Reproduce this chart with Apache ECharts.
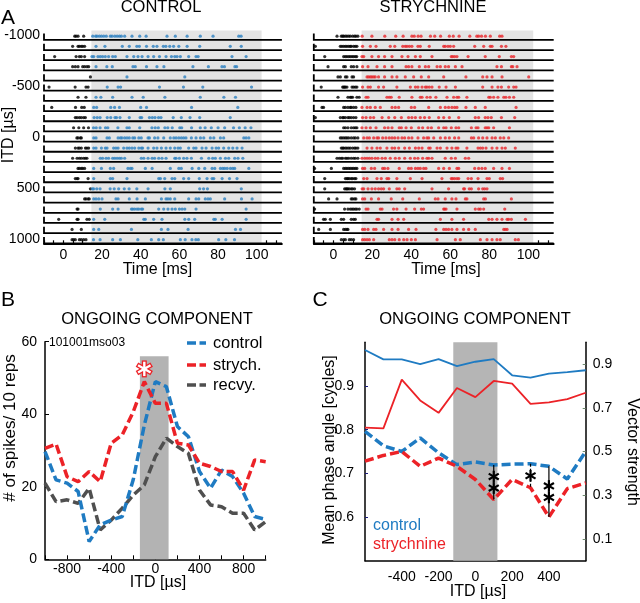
<!DOCTYPE html>
<html><head><meta charset="utf-8">
<script src="https://cdn.jsdelivr.net/npm/echarts@6/dist/echarts.min.js"></script>
<style>html,body{margin:0;padding:0;background:#fff}#c{width:640px;height:603px}</style>
</head><body><div id="c"></div>
<script>
const FONT = '"Liberation Sans", Arial, Helvetica, sans-serif';

// ---------- Panel A: raster data (spike times in ms, one list per ITD row) ----------
const itdRows = [-1000,-900,-800,-700,-600,-500,-400,-300,-200,-100,0,100,200,300,400,500,600,700,800,900,1000];
const winStart = 14.5, winEnd = 102.5;   // ongoing-component window (ms)

const ctrlSpikes = [
 [5.9,6.6,7.6,10.5,15.2,16.7,17.4,18.6,19.7,20.9,22.2,24.3,25.2,26.6,27.8,29,30,31.7,35.5,39.5,42.8,53.6,57.9,64,70.8,77.4,90.7,91.9],
 [4.8,7.6,8.3,9.3,10,11,16.9,21.5,30.5,34.1,38,39.3,43,46.5,48.4,51.7,53,55,57,59.7,64,70.5,86.3,92],
 [-4.5,6.6,8.3,9.3,11,14.8,15.7,17.9,19.1,20.3,21.7,23.4,25.5,26.9,32.9,36.4,38.6,40.7,43.8,46.7,49.7,53.1,55.9,57.6,58.8,60.5,64.8,68.6,69.7,87.2,94.5],
 [4.8,6.2,7.6,10,11,12.2,13.1,16.9,22.5,25.3,36,37.2,43,48.4,52,67,75,82,83.3,88.7,89.6],
 [14,32.9,62.8],
 [-7.4,6.1,11.7,12.8,22.7,28.3,29.6,49.7,62.1,72.1,97.3],
 [7.6,11.7,16.9,19.4,25.5,35.5,41.3,52.5,70.8,83,89],
 [-6,6.3,9.5,10.8,15.7,17.2,24.5,26.5,29,40,43,66.3,90.2],
 [6.2,7.1,8.3,9.3,10.5,11.4,15.9,17.5,19,22.7,24.5,26.7,27.5,29.3,34.1,39.7,40.5,44.5,46,47.4,49.2,50.5,56.8,61,65.5,70.5,86.3],
 [5.3,8,10.5,13,15.6,17,19,21.8,23,28.2,32.9,34.1,39.5,45.8,47.5,49.1,52.5,54,56.3,60.2,61.2,66.3,70.8,73.3,76.5,80,83.4,88,91,94,97],
 [7,7.6,8.8,9.3,15.7,16.9,22.6,23.8,28.3,29.5,30.3,31.7,32.9,34.1,35.9,36.9,39,40.3,43.8,44.5,47.2,48.9,51.9,55.3,57.1,58.3,59.7,61,62.2,63.4,66.2,68.6,70.9,72.6,76,77.8,81.2,82.9,93.3,94.5,95.9],
 [6.2,7.6,8.3,9.3,11.4,12.2,13.1,15.7,16.9,19.7,21.7,22.6,26,27.2,28.3,31.2,32.9,34.1,35.5,36.9,39,40.3,41,43.8,46.7,48.4,50.7,53.1,55.3,57.6,59.3,60.5,64.8,67.4,68.6,71.7,73.8,76.9,79,80.3,82.9,85.5,87.6,89.8,92.4],
 [4.8,7.1,8.3,9.3,10.5,11.4,12.2,19.1,20.3,22.1,23.4,25.5,26.6,27.8,29,30,31.7,40.3,41.6,43.8,45.9,47.2,49.3,51,53.1,57.6,58.3,60,62.2,63.9,66.2,71.4,75.2,77.2,78.6,81.2,83.8,85.5,88.6,90.3,92.8],
 [7.6,8.3,9.3,10,11,15.7,19.7,24.3,26,33.4,34.7,35.5,42.4,45.9,55.3,59.7,61,66.6,70,73.1,76.9,78.3,81.2,82.4,83.4,84.7,86.4,87.6,88.6,95.9],
 [6.2,7.1,7.6,12.8,15.7,24.3,25.5,32.9,49.3,50.2,52.4,56.2,57.6,62.2,64.8,70.3,74.3,76.9,77.8,82.1,85.9,89.8],
 [14,15,15.7,17.3,19,24.2,26.3,28.6,31.5,34,38,43.8,52.5,55.3,70.5,72.5,74.5,92],
 [11,11.7,12.8,13.4,15.7,16.9,18.3,20,27.2,28.3,34.1,38.1,42.4,50.7,53.1,54.1,55.3,57.6,64.8,68.6,70,73.4,74.8,76,83.4,92.1,97.6],
 [7.1,7.6,19.1,25.5,28.3,35.2,35.9,36.9,38.1,39,40.3,41,49.3,51.9,54.1,56.2,57.9,60,61.4,62.8,68.6,94.5],
 [-2.4,7.1,7.6,12.2,13.4,15.7,21.4,41.6,42.4,46.7,51,62.8,64.8,67.9,77.8,78.6,82.1,94.5],
 [4.5,9.3,15.7,18.3,35.2,50.7,54.1,64.5,89,91.6],
 [4.5,5.3,6.2,8.3,9.3,10.5,11.7,15.6,19,25.5,29.5,38.5,45.5,49.3,51.7,60.5,63,66.5,68.5,69.8,80.3,84,88.5]
];

const strychSpikes = [
 [1.9,4.1,4.8,5.3,6.2,7,7.9,8.7,9.9,10.9,11.6,12.6,14.8,19.8,26.4,32,35.8,40.3,41.5,43.5,45,49.8,52,55,59.5,61.5,64.5,70,73.6,74.5,76,78,80.5,85.3,86.5],
 [-9.2,3.6,4.4,5.3,6.2,7,7.9,8.7,9.2,10.4,11.3,12.1,15,19,21.9,29.2,31.5,35.6,36.9,37.8,39,40.3,43.4,44.6,49.2,56.6,57.4,58.8,60,61.7,72.5,77.1,80.5,81.4,86.2,88.5],
 [-4.4,5.3,6.2,7,7.9,8.7,9.6,10.4,11.3,12,14.7,15.6,19.8,23.2,26.3,30.1,35.2,38.3,42.1,44.6,50.6,60.5,61.2,62.2,63.4,69.1,77.9,85.1,91.3,92.5],
 [-2.7,5.3,6.2,9.2,10.4,12.1,15,17.8,22.4,26.3,30.1,37.3,38.6,40.3,44.1,47.2,48.9,53.2,54.9,57.4,59.1,62.6,66,83.9,86.2,91.3,92,94.2],
 [2.4,3.6,6.2,7,9.6,10.4,17.3,18.1,19,19.8,20.7,21.5,23.2,26.3,30.1,32.6,36.9,41.2,45.1,48.9,56.6,68,76.6,78.8,81.4,86.5,100.2],
 [-6.2,4.8,5.3,5.8,6.2,7,9.6,10.4,11.3,12.1,15,17.8,19,23.2,25.8,32.6,39.5,42.1,43.4,45.5,47.2,48,49.2,50.6,54.3,57.8,62.6,76.6,81.4,84.4,86.2,89.9,92.5,93.7],
 [2.4,7.5,8.7,9.2,9.9,12.1,13.3,16.8,17.8,27.5,28.7,29.7,33.8,40.3,44.6,45.5,48,49.7,52.6,58.3,61.7,63.4,64.3,68.5,79.7,80.5,82.2,84.4,87.4,88.5,90.3,92.5],
 [-5.8,-5,5.3,6.2,7.5,8.7,9.2,10.4,11.6,14.7,17.3,19,21.5,24.1,30.1,31.8,33.5,40,41.7,48.9,54.9,57.4,59.1,60.8,62.2,63.4,68,72.8,77.9,93.7],
 [-9.2,3.6,4.8,5.3,6.2,7.5,8.2,9.2,10.4,11.6,15,16.8,19,20.7,25,28.4,31.5,34.9,38.6,40.3,42.1,44.6,46.8,49.2,54,56.6,59.5,64.3,72.8,74.5,77.9,79.3,81,86.2,93],
 [5.3,6.2,7.5,9.2,10.4,11.3,12.1,14.7,16.8,19,21.9,26.3,28.1,30.1,33.8,34.9,37.3,40,43.8,45.8,48.5,50.3,54,56.6,57.8,60.5,62.9,64.3,70.8,73.2,74.2,77.9,78.8,79.7,82.2,90.3],
 [3.6,4.4,5.3,6.2,7,7.9,9.2,10.4,11.3,12.6,15.6,17.3,18.5,20.7,22.4,23.2,25.3,27,28.7,30.1,31.5,33.2,35.2,36.6,38.6,40.3,43.4,46.3,48,48.9,51.5,54.9,57.4,59.5,62.2,64.3,70.8,72,74.5,76.6,78.8,81.4,83.1,85.6,87.4,89.9],
 [4.1,4.8,5.3,6.2,7,7.9,8.7,9.9,10.9,11.6,12.6,17.3,19.8,22.4,24.1,27.5,30.1,31.5,33.5,36.6,39,42.1,43.8,45.5,48.9,49.7,53.2,54.9,58.3,60.8,62.9,63.9,68.5,74.2,75.4,76.6,78.3,81.4,83.9,86.5,88.2,93.3],
 [1.9,3.1,4.1,4.8,6.2,7,7.9,9.2,10.4,11.3,12.6,14.7,16.1,17.3,18.5,19.8,21.5,22.9,25,26.7,29.2,31.8,33.8,36.6,39.5,41.7,43.4,45.8,48,48.9,50.6,57.4,60.5,62.6,67.7,69.4],
 [-9.6,-1,5.3,6.2,7,7.9,8.7,9.6,10.4,11.3,12.1,15,16.1,19.5,21.2,25.3,26.3,28,33.8,38.6,40,42.1,43.4,44.6,46.3,47.5,54,56.6,59.5,63.4,64.3,72.5,74.5,76.2,77.9,82.2,86.5,90.3],
 [-4.4,6.2,7,7.5,8.2,9.2,9.9,10.9,11.6,15.6,17.3,22.4,24.6,27.5,28.4,32.6,39.5,45.5,55.7,60.5,61.2,62.2,63.4,64.3,69.1,70.8,74.2,78.8,80,85.6,86.8],
 [-4.4,5.8,6.5,7,7.5,8.2,9.2,9.9,10.9,14.8,15.6,17.8,19.8,21.5,23.2,24.6,25.8,28.7,32.6,33.8,36.6,50.6,59.1,66.8,67.3,69.7,70.8,74.5,76.6,77.6,78.8],
 [-2.4,1.9,9.2,9.9,10.9,11.6,15,16.1,19.5,23.2,29.7,35.6,44.1,52.3,53.7,57.4,60.8,62.9,67.7,68.5,77.1,78,91.3],
 [-9.6,5.8,7.5,8.7,9.6,10.4,11.3,12.1,13.3,16.8,17.8,24.1,25,30.9,32.6,37.3,41.7,45.1,46.3,56.6,57.1,57.8,63.4,72.8,74.5,75.4,77.1,87.9],
 [-5,-4.1,-1.5,4.1,5.3,9.2,10.4,11.3,22.4,23.2,30.1,33.2,36.1,54.9,60.8,66.8,79.7,81.4,83.9,86.5,89.1,89.9,91.3,98.5],
 [-7.5,-1.5,5.3,6.2,7,7.5,15,16.1,17.8,20.7,21.9,25.8,30.1,33.2,38.6,42.4,52.6,56.6,57.8,59.1,60.8,63.4,66.8,69.4,72.8,87.4,88.2,89.1],
 [4.1,5.3,6.2,8.2,9.2,10.4,15,16.1,17.3,18.5,20.7,28.7,30.1,31.5,33.8,36.1,37.8,40,42.1,53.2,62.6,65.1,75.4,78.8,81.4,83.9,85.6,93.3,94.9]
];
const rasterYLabels = [-1000,-500,0,500,1000];

// ---------- Panel B: spike counts per 10 reps ----------
const itdB    = [-1000,-900,-800,-700,-600,-500,-400,-300,-200,-100,0,100,200,300,400,500,600,700,800,900,1000];
const ctrlB   = [29.7,21.9,21,18.7,4.9,9.5,10.8,11.8,22,37,49,47.6,36.6,33.8,24.2,19.6,24.6,22.8,18.2,11.8,11];
const strychB = [30.6,31.8,22.8,21.4,24.2,21.4,32,34.3,40.7,49,43,43,32,31.5,26.5,25.6,24.2,24.2,19.1,27.4,26.9];
const recvyB  = [21,15.9,16.4,15.4,19.6,8.1,10.8,14.1,17.7,20.5,28.3,33.4,31.1,29.2,19.1,15,14.5,12.7,12.7,8.1,10.4];
const bandB   = [-140,120];
const sigB    = [[-100, 52.5]];

// ---------- Panel C: mean phase (dashed, left) and vector strength (solid, right) ----------
const itdC        = [-600,-500,-400,-300,-200,-100,0,100,200,300,400,500,600];
const ctrlPhase   = [0.796,0.763,0.750,0.781,0.747,0.720,0.726,0.719,0.721,0.722,0.716,0.687,0.750];
const strychPhase = [0.728,0.741,0.750,0.716,0.735,0.716,0.686,0.640,0.686,0.667,0.600,0.665,0.678];
const ctrlVS      = [0.965,0.922,0.922,0.900,0.923,0.891,0.911,0.923,0.849,0.838,0.857,0.863,0.872];
const strychVS    = [0.609,0.606,0.829,0.734,0.677,0.791,0.749,0.823,0.811,0.718,0.725,0.740,0.769];
const bandC       = [-120,120];
const sigX        = [100,300,400];
const sigN        = [2,1,2];
const sigDashed   = [false,true,false];

// ---------- colours ----------
const BLUE = '#1f7bc2', RED = '#ec2227', DGRAY = '#4f4f4f';
const DOT_BLUE = '#2a7fc0', DOT_RED = '#e8262a';

// layout helpers for raster
const T_MIN = -10, T_MAX = 113, Y_MIN = -1050, Y_MAX = 1042, BASE_OFF = 42, DOT_LIFT = 36, L_UNITS = 62;

function rasterSeries(gi, spikes, color) {
  const pre = [], post = [];
  spikes.forEach((ts, i) => ts.forEach(t => {
    const y = itdRows[i] + BASE_OFF - DOT_LIFT;
    (t < winStart ? pre : post).push([t, y]);
  }));
  return [
    { type:'custom', xAxisIndex:gi, yAxisIndex:gi, z:1, silent:true, data:[[winStart, winEnd]],
      renderItem:(p, api) => {
        const a = api.coord([api.value(0), Y_MIN]), b = api.coord([api.value(1), Y_MAX]);
        return { type:'rect', shape:{x:a[0], y:a[1], width:b[0]-a[0], height:b[1]-a[1]}, style:{fill:'#e4e4e4'} };
      } },
    { type:'custom', xAxisIndex:gi, yAxisIndex:gi, z:2, silent:true, data:itdRows.map(v => [T_MIN, v]),
      renderItem:(p, api) => {
        const yb = api.value(1) + BASE_OFF;
        const p0 = api.coord([T_MIN, yb]), p1 = api.coord([T_MAX, yb]), pt = api.coord([T_MIN, yb - L_UNITS]);
        return { type:'polyline', shape:{points:[pt, p0, p1]}, style:{stroke:'#000', lineWidth:1.8, fill:null} };
      } },
    { type:'scatter', xAxisIndex:gi, yAxisIndex:gi, z:3, silent:true, symbolSize:3.2, itemStyle:{color:'#000'}, data:pre },
    { type:'scatter', xAxisIndex:gi, yAxisIndex:gi, z:3, silent:true, symbolSize:3.2, itemStyle:{color:color}, data:post }
  ];
}

function starLines(cx, cy, r, color, w) {
  return [90, 30, -30].map(a => {
    const rad = a * Math.PI / 180, dx = r * Math.cos(rad), dy = r * Math.sin(rad);
    return { type:'line', shape:{x1:cx-dx, y1:cy-dy, x2:cx+dx, y2:cy+dy}, style:{stroke:color, lineWidth:w} };
  });
}

const rasterX = gi => ({
  gridIndex:gi, type:'value', min:T_MIN, max:T_MAX, interval:5,
  axisLine:{onZero:false, lineStyle:{color:'#000', width:1.8}},
  axisTick:{inside:true, length:3, lineStyle:{color:'#000', width:1.2}},
  axisLabel:{color:'#000', fontSize:14, fontFamily:FONT, margin:5, showMaxLabel:false,
    formatter:v => (v >= 0 && v <= 100 && Math.round(v) % 20 === 0) ? String(Math.round(v)) : ''},
  splitLine:{show:false}
});
const rasterY = (gi, show) => ({
  gridIndex:gi, type:'value', inverse:true, min:Y_MIN, max:Y_MAX,
  axisLine:{show:false, onZero:false}, axisTick:{show:false}, splitLine:{show:false},
  axisLabel:{show:show, color:'#000', fontSize:14, fontFamily:FONT, margin:4, customValues:rasterYLabels,
    formatter:v => String(Math.round(v))}
});

function txt(text, x, y, size, opt) {
  opt = opt || {};
  return { type:'text', x:x, y:y, rotation:opt.rot || 0, silent:true, z:50,
    style:{ text:text, font:(opt.bold ? 'bold ' : '') + size + 'px ' + FONT, fill:opt.color || '#000',
      textAlign:opt.align || 'center', textVerticalAlign:'middle' } };
}
function dashLeg(x1, x2, y, color) {
  return { type:'line', silent:true, z:50, shape:{x1:x1, y1:y, x2:x2, y2:y}, style:{stroke:color, lineWidth:3.5, lineDash:[9,3.5]} };
}

const chart = echarts.init(document.getElementById('c'), null, {renderer:'canvas'});
const option = {
  animation:false,
  backgroundColor:'#fff',
  grid:[
    {left:44, top:30.5, width:237.9, height:212.8},
    {left:313.8, top:30.5, width:239.9, height:212.8},
    {left:45, top:341.7, width:220.7, height:217.6},
    {left:365, top:342.3, width:220.7, height:218.4}
  ],
  xAxis:[
    rasterX(0), rasterX(1),
    { gridIndex:2, type:'value', min:-1000, max:1000, interval:200,
      axisLine:{onZero:false, lineStyle:{color:'#000', width:1.5}},
      axisTick:{inside:true, length:4, lineStyle:{color:'#000'}},
      axisLabel:{color:'#000', fontSize:14, fontFamily:FONT, margin:3,
        formatter:v => (Math.abs(v) < 1000 && Math.round(v) % 400 === 0) ? String(Math.round(v)) : ''},
      splitLine:{show:false} },
    { gridIndex:3, type:'value', min:-600, max:600, interval:200,
      axisLine:{onZero:false, lineStyle:{color:'#000', width:1.5}},
      axisTick:{show:false},
      axisLabel:{color:'#000', fontSize:14, fontFamily:FONT, margin:9,
        formatter:v => (Math.abs(v) < 600) ? String(Math.round(v)) : ''},
      splitLine:{show:false} }
  ],
  yAxis:[
    rasterY(0, true), rasterY(1, false),
    { gridIndex:2, type:'value', min:0, max:60, interval:20,
      axisLine:{show:true, onZero:false, lineStyle:{color:'#000', width:1.5}},
      axisTick:{show:true, inside:true, length:4, lineStyle:{color:'#000'}},
      axisLabel:{color:'#000', fontSize:14, fontFamily:FONT, margin:8},
      splitLine:{show:false} },
    { gridIndex:3, type:'value', min:0.5, max:1.0, interval:0.1, position:'left',
      axisLine:{show:true, onZero:false, lineStyle:{color:'#000', width:1.5}},
      axisTick:{show:true, inside:true, length:3, lineStyle:{color:'#1b1b7a'}},
      axisLabel:{color:'#000', fontSize:14, fontFamily:FONT, margin:11, showMinLabel:false, showMaxLabel:false,
        formatter:v => (v > 0.55 && v < 0.95) ? v.toFixed(1) : ''},
      splitLine:{show:false} },
    { gridIndex:3, type:'value', min:0, max:1, position:'right',
      axisLine:{show:true, onZero:false, lineStyle:{color:'#000', width:1.5}},
      axisTick:{show:true, inside:true, length:3, lineStyle:{color:'#6f8a6f'}, customValues:[0.1,0.3,0.5,0.7,0.9]},
      axisLabel:{color:'#000', fontSize:14, fontFamily:FONT, margin:7, customValues:[0.1,0.3,0.5,0.7,0.9],
        formatter:v => v.toFixed(1)},
      splitLine:{show:false} }
  ],
  series:[
    ...rasterSeries(0, ctrlSpikes, DOT_BLUE),
    ...rasterSeries(1, strychSpikes, DOT_RED),
    // Panel B
    { type:'line', xAxisIndex:2, yAxisIndex:2, z:3, symbol:'none', silent:true,
      data:itdB.map((x,i) => [x, recvyB[i]]), lineStyle:{color:DGRAY, width:3.5, type:[9,4]},
      markArea:{silent:true, itemStyle:{color:'#b3b3b3'}, data:[[{xAxis:bandB[0], yAxis:0},{xAxis:bandB[1], yAxis:56}]]} },
    { type:'line', xAxisIndex:2, yAxisIndex:2, z:4, symbol:'none', silent:true,
      data:itdB.map((x,i) => [x, ctrlB[i]]), lineStyle:{color:BLUE, width:3.5, type:[9,4]} },
    { type:'line', xAxisIndex:2, yAxisIndex:2, z:5, symbol:'none', silent:true,
      data:itdB.map((x,i) => [x, strychB[i]]), lineStyle:{color:RED, width:3.5, type:[9,4]} },
    { type:'custom', xAxisIndex:2, yAxisIndex:2, z:6, silent:true, data:sigB,
      renderItem:(p, api) => {
        const c = api.coord([api.value(0), api.value(1)]);
        return { type:'group', children:[...starLines(c[0], c[1], 8.5, RED, 5), ...starLines(c[0], c[1], 7.2, '#fff', 2.4)] };
      } },
    // Panel C
    { type:'line', xAxisIndex:3, yAxisIndex:3, z:3, symbol:'none', silent:true,
      data:itdC.map((x,i) => [x, ctrlPhase[i]]), lineStyle:{color:BLUE, width:3.5, type:[9,4]},
      markArea:{silent:true, itemStyle:{color:'#b5b5b5'}, data:[[{xAxis:bandC[0], yAxis:0.5},{xAxis:bandC[1], yAxis:1.0}]]} },
    { type:'line', xAxisIndex:3, yAxisIndex:3, z:4, symbol:'none', silent:true,
      data:itdC.map((x,i) => [x, strychPhase[i]]), lineStyle:{color:RED, width:3.5, type:[9,4]} },
    { type:'line', xAxisIndex:3, yAxisIndex:4, z:4, symbol:'none', silent:true,
      data:itdC.map((x,i) => [x, ctrlVS[i]]), lineStyle:{color:BLUE, width:1.8} },
    { type:'line', xAxisIndex:3, yAxisIndex:4, z:4, symbol:'none', silent:true,
      data:itdC.map((x,i) => [x, strychVS[i]]), lineStyle:{color:RED, width:1.8} },
    { type:'custom', xAxisIndex:3, yAxisIndex:3, z:6, silent:true,
      data:sigX.map(x => [x, strychPhase[itdC.indexOf(x)]]),
      renderItem:(p, api) => {
        const i = p.dataIndex, x = sigX[i], k = itdC.indexOf(x);
        const p0 = api.coord([x, ctrlPhase[k]]), p1 = api.coord([x, strychPhase[k]]);
        const kids = [{ type:'line', shape:{x1:p0[0], y1:p0[1], x2:p1[0], y2:p1[1]},
          style:{stroke:'#000', lineWidth:1.2, lineDash:sigDashed[i] ? [3,2] : null} }];
        const mid = (p0[1] + p1[1]) / 2, n = sigN[i];
        for (let j = 0; j < n; j++) {
          const cy = mid + (j - (n - 1) / 2) * 11.5;
          kids.push(...starLines(p0[0], cy, 5.8, '#000', 2.2));
        }
        return { type:'group', children:kids };
      } }
  ],
  graphic:[
    txt('A', 8, 18, 21),
    txt('CONTROL', 161, 7, 16.5),
    txt('STRYCHNINE', 433, 7, 16.5),
    txt('ITD [µs]', 9, 135, 16, {rot:Math.PI/2}),
    txt('Time [ms]', 157.5, 270, 16),
    txt('Time [ms]', 446, 270, 16),
    txt('B', 8, 300, 21),
    txt('ONGOING COMPONENT', 157, 319, 16.5),
    txt('101001mso03', 49, 343, 12, {align:'left'}),
    txt('# of spikes/ 10 reps', 10, 428, 17, {rot:Math.PI/2}),
    txt('ITD [µs]', 158, 583, 16),
    dashLeg(187, 206, 343, BLUE), dashLeg(187, 206, 365, RED), dashLeg(187, 206, 385, DGRAY),
    txt('control', 213, 343, 16.5, {align:'left'}),
    txt('strych.', 213, 365, 16.5, {align:'left'}),
    txt('recvy.', 213, 385, 16.5, {align:'left'}),
    txt('C', 320, 300, 21),
    txt('ONGOING COMPONENT', 475, 319, 16.5),
    txt('Mean phase angle [cycles]', 330, 450, 16, {rot:Math.PI/2}),
    txt('Vector strength', 632, 452, 16, {rot:-Math.PI/2}),
    txt('ITD [µs]', 478, 591.7, 16),
    txt('control', 373, 526, 16, {align:'left', color:BLUE}),
    txt('strychnine', 373, 545, 16, {align:'left', color:RED})
  ]
};
chart.setOption(option);
</script></body></html>
